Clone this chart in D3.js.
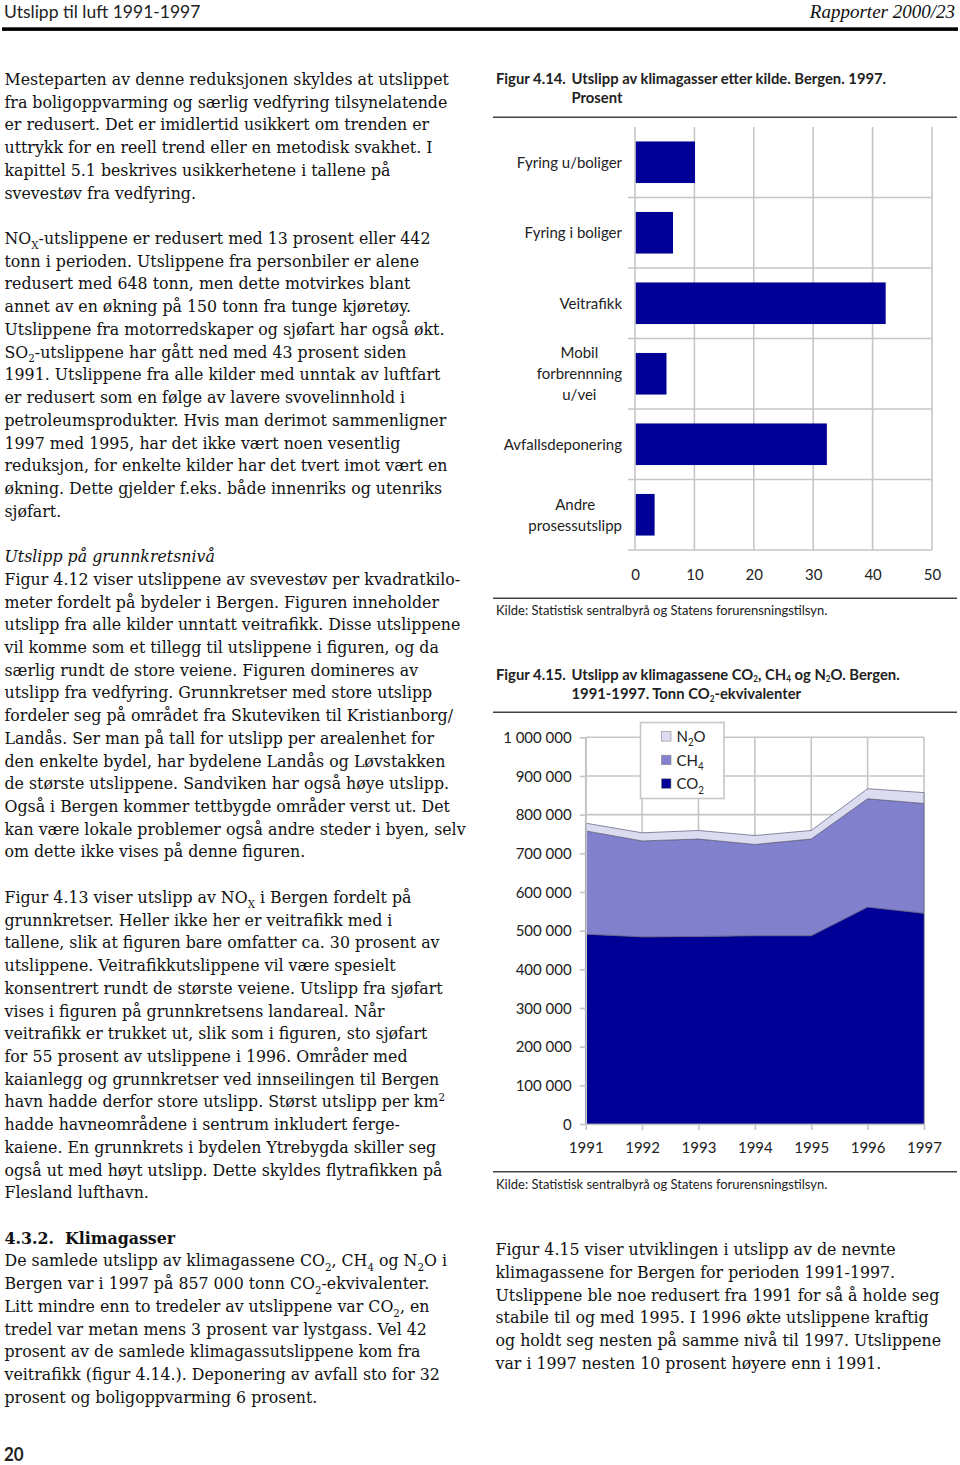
<!DOCTYPE html>
<html><head><meta charset="utf-8">
<script src="https://cdn.jsdelivr.net/npm/d3@7"></script>
<style>
html,body{margin:0;padding:0;background:#fff;}
svg{display:block;}
.body{font-family:"DejaVu Serif",serif;fill:#111;}
.sans{font-family:Lato,"Open Sans",sans-serif;fill:#222;}
</style>
</head><body>
<svg id="page" width="960" height="1465"></svg>
<script>
// ---------------- DATA ----------------
const barCategories = ["Fyring u/boliger", "Fyring i boliger", "Veitrafikk", "Mobil\nforbrennning\nu/vei", "Avfallsdeponering", "Andre\nprosessutslipp"];
const barValues = [10.1, 6.4, 42.2, 5.3, 32.3, 3.3];
const barTicks = [0, 10, 20, 30, 40, 50];

const years = [1991, 1992, 1993, 1994, 1995, 1996, 1997];
const co2 = [491000, 484000, 485000, 487000, 487000, 561000, 545000];
const ch4 = [267000, 248000, 252000, 236000, 250000, 280000, 284000];
const n2o = [20000, 21000, 22000, 23000, 22000, 26000, 28000];
const gasKeys = ["CO2", "CH4", "N2O"];
const gasLabels = ["CO_{2}", "CH_{4}", "N_{2}O"];
const areaYTicks = [0, 100000, 200000, 300000, 400000, 500000, 600000, 700000, 800000, 900000, 1000000];

const leftLines = [
"Mesteparten av denne reduksjonen skyldes at utslippet",
"fra boligoppvarming og særlig vedfyring tilsynelatende",
"er redusert. Det er imidlertid usikkert om trenden er",
"uttrykk for en reell trend eller en metodisk svakhet. I",
"kapittel 5.1 beskrives usikkerhetene i tallene på",
"svevestøv fra vedfyring.",
"",
"NO_{X}-utslippene er redusert med 13 prosent eller 442",
"tonn i perioden. Utslippene fra personbiler er alene",
"redusert med 648 tonn, men dette motvirkes blant",
"annet av en økning på 150 tonn fra tunge kjøretøy.",
"Utslippene fra motorredskaper og sjøfart har også økt.",
"SO_{2}-utslippene har gått ned med 43 prosent siden",
"1991. Utslippene fra alle kilder med unntak av luftfart",
"er redusert som en følge av lavere svovelinnhold i",
"petroleumsprodukter. Hvis man derimot sammenligner",
"1997 med 1995, har det ikke vært noen vesentlig",
"reduksjon, for enkelte kilder har det tvert imot vært en",
"økning. Dette gjelder f.eks. både innenriks og utenriks",
"sjøfart.",
"",
"*Utslipp på grunnkretsnivå",
"Figur 4.12 viser utslippene av svevestøv per kvadratkilo-",
"meter fordelt på bydeler i Bergen. Figuren inneholder",
"utslipp fra alle kilder unntatt veitrafikk. Disse utslippene",
"vil komme som et tillegg til utslippene i figuren, og da",
"særlig rundt de store veiene. Figuren domineres av",
"utslipp fra vedfyring. Grunnkretser med store utslipp",
"fordeler seg på området fra Skuteviken til Kristianborg/",
"Landås. Ser man på tall for utslipp per arealenhet for",
"den enkelte bydel, har bydelene Landås og Løvstakken",
"de største utslippene. Sandviken har også høye utslipp.",
"Også i Bergen kommer tettbygde områder verst ut. Det",
"kan være lokale problemer også andre steder i byen, selv",
"om dette ikke vises på denne figuren.",
"",
"Figur 4.13 viser utslipp av NO_{X} i Bergen fordelt på",
"grunnkretser. Heller ikke her er veitrafikk med i",
"tallene, slik at figuren bare omfatter ca. 30 prosent av",
"utslippene. Veitrafikkutslippene vil være spesielt",
"konsentrert rundt de største veiene. Utslipp fra sjøfart",
"vises i figuren på grunnkretsens landareal. Når",
"veitrafikk er trukket ut, slik som i figuren, sto sjøfart",
"for 55 prosent av utslippene i 1996. Områder med",
"kaianlegg og grunnkretser ved innseilingen til Bergen",
"havn hadde derfor store utslipp. Størst utslipp per km^{2}",
"hadde havneområdene i sentrum inkludert ferge-",
"kaiene. En grunnkrets i bydelen Ytrebygda skiller seg",
"også ut med høyt utslipp. Dette skyldes flytrafikken på",
"Flesland lufthavn.",
"",
"#4.3.2.  Klimagasser",
"De samlede utslipp av klimagassene CO_{2}, CH_{4} og N_{2}O i",
"Bergen var i 1997 på 857 000 tonn CO_{2}-ekvivalenter.",
"Litt mindre enn to tredeler av utslippene var CO_{2}, en",
"tredel var metan mens 3 prosent var lystgass. Vel 42",
"prosent av de samlede klimagassutslippene kom fra",
"veitrafikk (figur 4.14.). Deponering av avfall sto for 32",
"prosent og boligoppvarming 6 prosent."
];
const rightLines = [
"Figur 4.15 viser utviklingen i utslipp av de nevnte",
"klimagassene for Bergen for perioden 1991-1997.",
"Utslippene ble noe redusert fra 1991 for så å holde seg",
"stabile til og med 1995. I 1996 økte utslippene kraftig",
"og holdt seg nesten på samme nivå til 1997. Utslippene",
"var i 1997 nesten 10 prosent høyere enn i 1991."
];

// ---------------- HELPERS ----------------
const SY = 1.08;
const BODY = 15.8;
const svg = d3.select("#page");
const GRID = "#c6c6c6";

function rich(t, str, base, subShift, subSize) {
  const sub = subShift == null ? 0.28 : subShift;
  const ss = subSize == null ? 0.65 : subSize;
  const parts = str.split(/(_\{[^}]*\}|\^\{[^}]*\})/).filter(s => s.length);
  let shift = 0;
  parts.forEach(p => {
    const ts = t.append("tspan");
    if (p.startsWith("_{")) {
      const s = base * sub;
      ts.text(p.slice(2, -1)).attr("font-size", base * ss).attr("dy", s - shift); shift = s;
    } else if (p.startsWith("^{")) {
      const s = -base * 0.4;
      ts.text(p.slice(2, -1)).attr("font-size", base * ss).attr("dy", s - shift); shift = s;
    } else {
      ts.text(p).attr("dy", -shift); shift = 0;
    }
  });
  return t;
}
function txt(parent, x, y, str, cls, size, extra, sy, subShift, subSize) {
  const t = parent.append("text").attr("class", cls)
    .attr("transform", `translate(${x},${y}) scale(1,${sy == null ? SY : sy})`)
    .attr("font-size", size);
  if (extra) Object.entries(extra).forEach(([k, v]) => t.attr(k, v));
  rich(t, str, size, subShift, subSize);
  return t;
}

// ---------------- PAGE HEADER ----------------
txt(svg, 4, 17.5, "Utslipp til luft 1991-1997", "sans", 17.5, {fill: "#111"}, 1);
txt(svg, 955, 17.5, "Rapporter 2000/23", "", 19, {"text-anchor": "end", "font-family": "Liberation Serif", "font-style": "italic", fill: "#111"}, 1);
svg.append("rect").attr("x", 2).attr("y", 27.3).attr("width", 956).attr("height", 3.6).attr("fill", "#000");

// ---------------- BODY TEXT ----------------
const LH = 22.72;
leftLines.forEach((l, i) => {
  if (!l) return;
  const y = 85 + LH * i;
  if (l[0] === "*") txt(svg, 4.5, y, l.slice(1), "body", BODY, {"font-style": "italic"});
  else if (l[0] === "#") txt(svg, 4.5, y, l.slice(1), "body", BODY, {"font-weight": "bold", "xml:space": "preserve"});
  else txt(svg, 4.5, y, l, "body", BODY);
});
rightLines.forEach((l, i) => txt(svg, 495.5, 85 + LH * (51.5 + i), l, "body", BODY));
txt(svg, 4, 1461, "20", "sans", 17, {"font-weight": "bold", fill: "#000"});

// ---------------- FIGURE 4.14 (bars) ----------------
const f1 = svg.append("g");
txt(f1, 496, 84, "Figur 4.14.", "sans", 14.8, {"font-weight": "bold"});
txt(f1, 571.5, 84, "Utslipp av klimagasser etter kilde. Bergen. 1997.", "sans", 14.8, {"font-weight": "bold"});
txt(f1, 571.5, 103, "Prosent", "sans", 14.8, {"font-weight": "bold"});
f1.append("line").attr("x1", 493).attr("x2", 957).attr("y1", 117.3).attr("y2", 117.3).attr("stroke", "#444").attr("stroke-width", 1.5);

const xBar = d3.scaleLinear().domain([0, 50]).range([635, 932]);
const yBar = d3.scaleBand().domain(barCategories).range([127, 550]).paddingInner(0.41).paddingOuter(0.205);
const step = yBar.step();

// vertical grid
f1.append("g").selectAll("line").data(barTicks).join("line")
  .attr("x1", d => xBar(d)).attr("x2", d => xBar(d)).attr("y1", 127).attr("y2", 550)
  .attr("stroke", GRID).attr("stroke-width", 1.6);
// horizontal separators between categories
f1.append("g").selectAll("line").data(barCategories).join("line")
  .attr("x1", 628).attr("x2", xBar(50))
  .attr("y1", d => yBar(d) - step * yBar.paddingInner() / 2 + step)
  .attr("y2", d => yBar(d) - step * yBar.paddingInner() / 2 + step)
  .attr("stroke", GRID).attr("stroke-width", 1.6);

f1.append("g").selectAll("rect").data(barCategories).join("rect")
  .attr("x", xBar(0) + 0.8).attr("y", d => yBar(d))
  .attr("width", (d, i) => xBar(barValues[i]) - xBar(0) - 0.8)
  .attr("height", yBar.bandwidth()).attr("fill", "#000096");

// category labels
barCategories.forEach(c => {
  const lines = c.split("\n");
  const cy = yBar(c) + yBar.bandwidth() / 2;
  const t = f1.append("text").attr("class", "sans").attr("font-size", 15).attr("text-anchor", "middle")
    .attr("transform", `translate(600,${cy}) scale(1,${SY})`);
  lines.forEach((l, i) => t.append("tspan").attr("x", 0)
    .attr("y", (i - (lines.length - 1) / 2) * 21 / SY).attr("dy", "0.35em").text(l));
  let maxW = 0;
  t.selectAll("tspan").each(function () { maxW = Math.max(maxW, this.getComputedTextLength()); });
  t.attr("transform", `translate(${622 - maxW / 2},${cy}) scale(1,${SY})`);
});

// x axis labels
const ax1 = f1.append("g").attr("transform", "translate(0,550)")
  .call(d3.axisBottom(xBar).tickValues(barTicks).tickSize(0).tickPadding(22.5).tickFormat(d3.format("d")));
ax1.select(".domain").remove();
ax1.selectAll("text").attr("class", "sans").attr("font-size", 15)
  .attr("dy", "0.35em").attr("transform", `scale(1,${SY})`);
ax1.attr("font-family", null).attr("font-size", null);

f1.append("line").attr("x1", 493).attr("x2", 957).attr("y1", 598.3).attr("y2", 598.3).attr("stroke", "#444").attr("stroke-width", 1.5);
txt(f1, 496, 614.5, "Kilde: Statistisk sentralbyrå og Statens forurensningstilsyn.", "sans", 13);

// ---------------- FIGURE 4.15 (stacked area) ----------------
const f2 = svg.append("g");
txt(f2, 496, 679.5, "Figur 4.15.", "sans", 14.8, {"font-weight": "bold"});
txt(f2, 571.5, 679.5, "Utslipp av klimagassene CO_{2}, CH_{4} og N_{2}O. Bergen.", "sans", 14.8, {"font-weight": "bold"}, null, 0.16, 0.55);
txt(f2, 571.5, 699, "1991-1997. Tonn CO_{2}-ekvivalenter", "sans", 14.8, {"font-weight": "bold"}, null, 0.16, 0.55);
f2.append("line").attr("x1", 493).attr("x2", 957).attr("y1", 712.3).attr("y2", 712.3).attr("stroke", "#444").attr("stroke-width", 1.5);

const xA = d3.scalePoint().domain(years).range([585.7, 924]);
const yA = d3.scaleLinear().domain([0, 1000000]).range([1124, 737.3]);
const rows = years.map((y, i) => ({year: y, CO2: co2[i], CH4: ch4[i], N2O: n2o[i]}));
const stacked = d3.stack().keys(gasKeys)(rows);
const gasColor = d3.scaleOrdinal().domain(gasKeys).range(["#000096", "#8080cc", "#dcdcf0"]);

// grids
f2.append("g").selectAll("line").data(areaYTicks).join("line")
  .attr("x1", xA(years[0])).attr("x2", xA(years[years.length - 1]))
  .attr("y1", d => yA(d)).attr("y2", d => yA(d)).attr("stroke", GRID).attr("stroke-width", 1.6);
f2.append("g").selectAll("line").data(years).join("line")
  .attr("x1", d => xA(d)).attr("x2", d => xA(d)).attr("y1", yA(1000000)).attr("y2", yA(0))
  .attr("stroke", GRID).attr("stroke-width", 1.6);

const area = d3.area().x(d => xA(d.data.year)).y0(d => yA(d[0])).y1(d => yA(d[1]));
f2.append("g").selectAll("path").data(stacked).join("path")
  .attr("d", area).attr("fill", d => gasColor(d.key))
  .attr("stroke", "#5a5a7a").attr("stroke-width", 0.7).attr("stroke-linejoin", "round");

const nb = d3.formatLocale({decimal: ",", thousands: "\u00a0", grouping: [3], currency: ["", ""]});
const fmt = nb.format(",d");
const axY = f2.append("g").attr("transform", `translate(${xA(years[0])},0)`)
  .call(d3.axisLeft(yA).tickValues(areaYTicks).tickSize(6).tickSizeOuter(0).tickPadding(8).tickFormat(fmt));
axY.select(".domain").attr("stroke", GRID).attr("stroke-width", 1.6);
axY.selectAll(".tick line").attr("stroke", GRID).attr("stroke-width", 1.6);
axY.selectAll("text").attr("class", "sans").attr("font-size", 15).attr("transform", `scale(1,${SY})`);
axY.attr("font-family", null).attr("font-size", null);

const axX = f2.append("g").attr("transform", `translate(0,${yA(0)})`)
  .call(d3.axisBottom(xA).tickSize(6).tickSizeOuter(0).tickPadding(10.5).tickFormat(d3.format("d")));
axX.select(".domain").attr("stroke", GRID).attr("stroke-width", 1.6);
axX.selectAll(".tick line").attr("stroke", GRID).attr("stroke-width", 1.6);
axX.selectAll("text").attr("class", "sans").attr("font-size", 15).attr("dy", "0.71em").attr("transform", `scale(1,${SY})`);
axX.attr("font-family", null).attr("font-size", null);

// legend
const lg = f2.append("g");
lg.append("rect").attr("x", 640.5).attr("y", 722.5).attr("width", 83.5).attr("height", 76)
  .attr("fill", "#fff").attr("stroke", GRID).attr("stroke-width", 1.6);
const legendKeys = gasKeys.slice().reverse();
const legendLabels = gasLabels.slice().reverse();
legendKeys.forEach((k, i) => {
  const cy = 736.3 + i * 23.6;
  lg.append("rect").attr("x", 661.5).attr("y", cy - 4.7).attr("width", 9.5).attr("height", 9.5)
    .attr("fill", gasColor(k)).attr("stroke", "#888").attr("stroke-width", 0.6);
  txt(lg, 676.5, cy + 5.6, legendLabels[i], "sans", 15);
});

f2.append("line").attr("x1", 493).attr("x2", 957).attr("y1", 1171.7).attr("y2", 1171.7).attr("stroke", "#444").attr("stroke-width", 1.5);
txt(f2, 496, 1188.5, "Kilde: Statistisk sentralbyrå og Statens forurensningstilsyn.", "sans", 13);
</script>
</body></html>
